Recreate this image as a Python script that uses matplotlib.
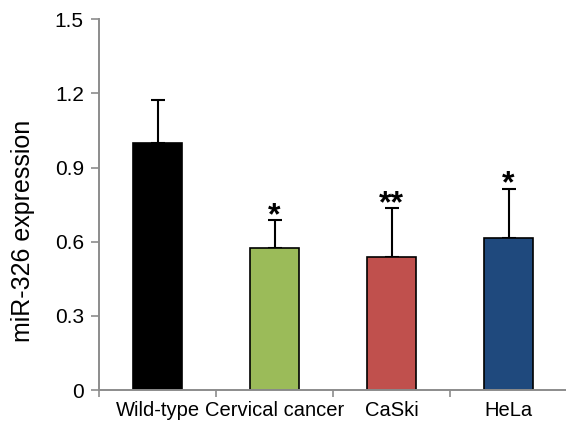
"""
miR-326 expression bar chart
"""
import matplotlib
matplotlib.use('Agg')
import matplotlib.pyplot as plt
import numpy as np

plt.rcParams['font.family'] = ['Liberation Sans', 'DejaVu Sans']

# data
groups = ['Wild-type', 'Cervical cancer', 'CaSki', 'HeLa']
expression = [1.00, 0.575, 0.537, 0.615]
error_upper = [0.175, 0.112, 0.198, 0.200]
signif = ['', '*', '**', '*']
bar_colors = ['#000000', '#9BBB59', '#C0504D', '#1F497D']
y_ticks = [0, 0.3, 0.6, 0.9, 1.2, 1.5]
y_tick_labels = ['0', '0.3', '0.6', '0.9', '1.2', '1.5']

fig = plt.figure(figsize=(5.66, 4.25), dpi=100)
ax = fig.add_axes([0.175, 0.082, 0.827, 0.873])

x = np.arange(len(groups))
ax.bar(x, expression, width=0.42, color=bar_colors, edgecolor='black',
       linewidth=1.2, zorder=2)
ax.errorbar(x, expression, yerr=[np.zeros(len(x)), error_upper], fmt='none',
            ecolor='black', elinewidth=1.5, capsize=5, capthick=1.5, zorder=1)

# significance marks
for xi, val, err, s in zip(x, expression, error_upper, signif):
    if s:
        ax.annotate(s, (xi, val + err), xytext=(0, -3), textcoords='offset points',
                    ha='center', va='baseline', fontsize=23, fontweight='bold')

ax.set_xlim(-0.5, 3.5)
ax.set_ylim(0, 1.5)
ax.set_yticks(y_ticks)
ax.set_yticklabels(y_tick_labels, fontsize=15)
ax.set_xticks(x)
ax.set_xticklabels(groups, fontsize=14.5)
ax.set_xticks([-0.5, 0.5, 1.5, 2.5], minor=True)
ax.tick_params(axis='x', which='major', length=0, pad=7.5)
ax.tick_params(axis='x', which='minor', length=5, width=1.2, color='#8c8c8c')
ax.tick_params(axis='y', length=6, width=1.2, color='#8c8c8c', pad=5)
ax.set_ylabel('miR-326 expression', fontsize=18)
ax.yaxis.set_label_coords(-0.137, 0.43)

for side in ['top', 'right']:
    ax.spines[side].set_visible(False)
for side in ['left', 'bottom']:
    ax.spines[side].set_color('#8c8c8c')
    ax.spines[side].set_linewidth(1.4)

fig.savefig('out.png', dpi=100)
plt.close()
